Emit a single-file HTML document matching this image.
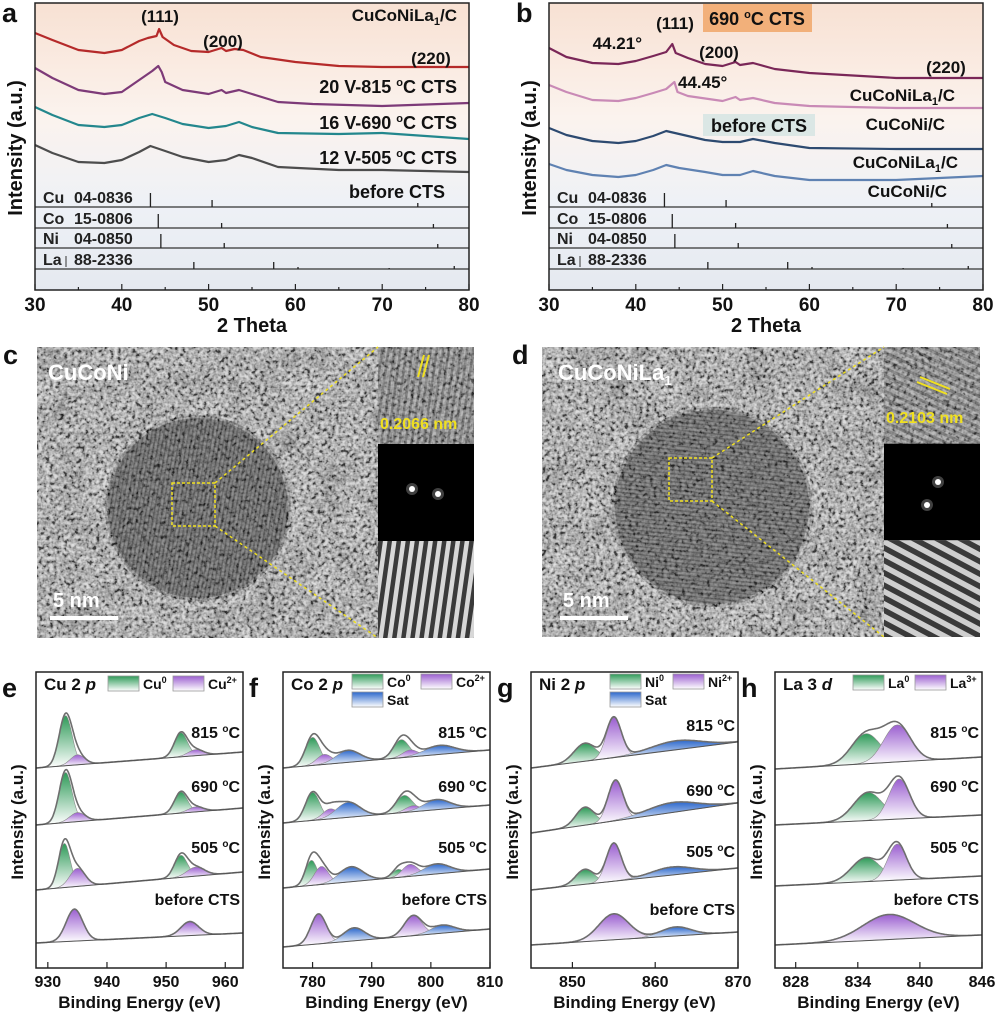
<!DOCTYPE html>
<html><head><meta charset="utf-8">
<style>
html,body{margin:0;padding:0;background:#fff;}
svg{display:block;font-family:"Liberation Sans",sans-serif;font-weight:bold;}
</style></head>
<body>
<svg id="fig" width="1000" height="1014" viewBox="0 0 1000 1014" xmlns="http://www.w3.org/2000/svg">
<defs>
  <linearGradient id="xrdBg" x1="0" y1="0" x2="0" y2="1">
    <stop offset="0" stop-color="#f8e1d3"/><stop offset="0.4" stop-color="#fbf3ee"/><stop offset="0.7" stop-color="#eef1f6"/><stop offset="1" stop-color="#e5e9f0"/>
  </linearGradient>
  <linearGradient id="gGreen" x1="0" y1="0" x2="0" y2="1"><stop offset="0" stop-color="#2e9a58"/><stop offset="1" stop-color="#ffffff"/></linearGradient>
  <linearGradient id="gPurple" x1="0" y1="0" x2="0" y2="1"><stop offset="0" stop-color="#9b5fd0"/><stop offset="1" stop-color="#ffffff"/></linearGradient>
  <linearGradient id="gBlue" x1="0" y1="0" x2="0" y2="1"><stop offset="0" stop-color="#2c68cc"/><stop offset="1" stop-color="#ffffff"/></linearGradient>
  <filter id="noise" x="0" y="0" width="100%" height="100%">
    <feTurbulence type="fractalNoise" baseFrequency="0.28" numOctaves="2" seed="4"/>
    <feColorMatrix type="matrix" values="1.6 1.6 0 0 -1.1  1.6 1.6 0 0 -1.1  1.6 1.6 0 0 -1.1  0 0 0 0 1"/>
  </filter>
  <filter id="blotch" x="0" y="0" width="100%" height="100%">
    <feTurbulence type="fractalNoise" baseFrequency="0.035" numOctaves="3" seed="9"/>
    <feColorMatrix type="matrix" values="0.8 0.8 0 0 -0.4  0.8 0.8 0 0 -0.4  0.8 0.8 0 0 -0.4  0 0 0 0 1"/>
  </filter>
  <pattern id="fringeC" width="4" height="4" patternUnits="userSpaceOnUse" patternTransform="rotate(10)"><rect width="4" height="4" fill="#5c5c5c"/><rect width="1.6" height="4" fill="#303030"/></pattern>
  <pattern id="fringeD" width="4" height="4" patternUnits="userSpaceOnUse" patternTransform="rotate(96)"><rect width="4" height="4" fill="#606060"/><rect width="1.6" height="4" fill="#353535"/></pattern>
  <pattern id="fftC" width="9" height="9" patternUnits="userSpaceOnUse" patternTransform="rotate(8)"><rect width="9" height="9" fill="#d8d8d8"/><rect width="4.5" height="9" fill="#3a3a3a"/></pattern>
  <pattern id="fftD" width="11" height="11" patternUnits="userSpaceOnUse" patternTransform="rotate(118)"><rect width="11" height="11" fill="#cfcfcf"/><rect width="5.5" height="11" fill="#3a3a3a"/></pattern>
  <pattern id="latC" width="6" height="6" patternUnits="userSpaceOnUse" patternTransform="rotate(8)"><rect width="6" height="6" fill="#8a8a8a"/><rect width="2.5" height="6" fill="#4a4a4a"/></pattern>
  <pattern id="latD" width="7" height="7" patternUnits="userSpaceOnUse" patternTransform="rotate(115)"><rect width="7" height="7" fill="#8e8e8e"/><rect width="3" height="7" fill="#505050"/></pattern>
</defs>
</svg>
<script>
// ---------------- DATA: XRD panel a ----------------
const xrdTicks=[30,40,50,60,70,80];
const aRedTheta=[30,32,35,38,40,42,43,44,44.3,44.7,46,48,50,51.5,52,53,54,56,60,65,70,80];
const aRedVal=[257,250,240,237,240,249,252,254,261,253,245,239,238,242,239,241,240,233,228,224,223,223];
const aPurTheta=[30,32,35,38,40,42,43.5,44.2,44.6,45,47,50,51.5,52,53.5,55,58,62,70,80];
const aPurVal=[222,212,200,196,198,210,219,224,218,208,200,196,200,197,200,196,188,186,184,187];
const aTealTheta=[30,32,35,38,40,42,43.5,45,47,50,52,53.5,55,58,65,70,80];
const aTealVal=[183,175,165,163,165,172,176,172,166,162,164,168,163,157,156,157,151];
const aGrayTheta=[30,32,35,38,40,42,43.3,45,47,50,52,53.5,55,58,65,70,80];
const aGrayVal=[145,137,128,127,130,138,144,139,133,128,130,135,132,123,120,120,118];
// ---------------- DATA: XRD panel b ----------------
const bDarkTheta=[30,32,35,38,40,42,43.5,44.2,44.6,46,48,50,51.5,52,53.5,56,60,70,80];
const bDarkVal=[242,233,227,226,229,234,238,246,237,232,226,224,228,225,227,221,217,212,212];
const bPinkTheta=[30,32,35,38,40,42,43.5,44.45,44.8,46,50,51.5,52,53.5,56,60,70,80];
const bPinkVal=[205,198,190,189,192,197,201,208,198,194,189,193,190,192,187,184,182,182];
const bNavyTheta=[30,32,35,38,40,42,43.5,45,48,50,52,53.5,56,60,70,80];
const bNavyVal=[162,155,149,147,149,154,159,156,150,148,148,151,147,142,141,141];
const bBlueTheta=[30,32,35,38,40,42,43.5,45,48,50,52,53.5,56,60,70,80];
const bBlueVal=[126,120,115,113,115,120,125,122,118,115,115,119,114,110,110,114];
// reference sticks (2theta, relative height)
const refCuPos=[43.3,50.4,74.1];
const refCuH=[14,7,4];
const refCoPos=[44.2,51.5,75.9];
const refCoH=[14,5,4];
const refNiPos=[44.5,51.8,76.4];
const refNiH=[14,5,4];
const refLaPos=[48.3,57.5,60.3,70.8,78.3];
const refLaH=[7,7,2,1,3];
// ---------------- DATA: XPS ----------------
const eTicks=[930,940,950,960];
const eSpectra=[
 {label:"815 °C",b0:200,b1:216,comps:[[933,50,1.1,"g"],[935,10,1.2,"p"],[952.5,24,1.1,"g"],[955,6,1.3,"p"]]},
 {label:"690 °C",b0:143,b1:160,comps:[[933,50,1.1,"g"],[935,9,1.3,"p"],[952.5,21,1.1,"g"],[955,5,1.3,"p"]]},
 {label:"505 °C",b0:78,b1:96,comps:[[932.8,44,1.0,"g"],[935,18,1.3,"p"],[952.5,22,1.1,"g"],[955,9,1.5,"p"]]},
 {label:"before CTS",b0:25,b1:35,comps:[[934.5,32,1.4,"p"],[954,14,1.5,"p"]]}
];
const fTicks=[780,790,800,810];
const fSpectra=[
 {label:"815 °C",b0:200,b1:218,comps:[[780,28,1.2,"g"],[782,10,1.3,"p"],[786,12,2,"b"],[795,18,1.3,"g"],[796.5,7,1.3,"p"],[801.5,9,2.5,"b"]]},
 {label:"690 °C",b0:145,b1:163,comps:[[780,28,1.2,"g"],[783,10,1.3,"p"],[786,15,2,"b"],[795.5,17,1.4,"g"],[797,6,1.3,"p"],[801,10,2.2,"b"]]},
 {label:"505 °C",b0:80,b1:99,comps:[[779.8,25,1.0,"g"],[781.5,18,1.2,"p"],[786.5,15,2,"b"],[794.5,8,1.0,"g"],[796.5,12,1.3,"p"],[801,10,2.2,"b"]]},
 {label:"before CTS",b0:21,b1:39,comps:[[781,30,1.3,"p"],[787,13,1.8,"b"],[797,20,1.5,"p"],[802,8,2,"b"]]}
];
const gTicks=[850,860,870];
const gSpectra=[
 {label:"815 °C",b0:200,b1:226,comps:[[851.5,18,1.3,"g"],[855,40,0.9,"p"],[862.5,9,3,"b"]]},
 {label:"690 °C",b0:135,b1:165,comps:[[851.5,18,1.1,"g"],[855.2,40,0.9,"p"],[862,10,3,"b"]]},
 {label:"505 °C",b0:78,b1:100,comps:[[851.5,15,1.1,"g"],[855,38,0.9,"p"],[862,8,2.5,"b"]]},
 {label:"before CTS",b0:23,b1:36,comps:[[855,26,1.8,"p"],[862.5,9,1.8,"b"]]}
];
const hTicks=[828,834,840,846];
const hSpectra=[
 {label:"815 °C",b0:199,b1:211,comps:[[834.8,30,1.4,"g"],[837.8,37,1.3,"p"]]},
 {label:"690 °C",b0:143,b1:153,comps:[[835,28,1.4,"g"],[838,40,1.0,"p"]]},
 {label:"505 °C",b0:82,b1:92,comps:[[834.8,24,1.4,"g"],[837.8,36,0.9,"p"]]},
 {label:"before CTS",b0:23,b1:33,comps:[[837,25,2.5,"p"]]}
];

// ---------------- helpers ----------------
const NS="http://www.w3.org/2000/svg";
const svg=document.getElementById('fig');
function mk(tag,attrs,parent){const e=document.createElementNS(NS,tag);for(const k in attrs)e.setAttribute(k,attrs[k]);(parent||svg).appendChild(e);return e;}
function txt(s,x,y,size,anchor,parent,fill){const t=mk('text',{x:x,y:y,'font-size':size,'text-anchor':anchor||'start',fill:fill||'#111'},parent);t.textContent=s;return t;}
function lin(d0,d1,r0,r1){return v=>r0+(v-d0)*(r1-r0)/(d1-d0);}
function degText(t,pre,post,size){const a=mk('tspan',{},t);a.textContent=pre;const o=mk('tspan',{'font-size':Math.round(size*0.62),dy:-Math.round(size*0.4)},t);o.textContent='o';const c=mk('tspan',{dy:Math.round(size*0.4)},t);c.textContent=post;}

// ---------------- XRD panels ----------------
function xrdPanel(cfg){
  const g=mk('g',{});
  
  
  const X=lin(30,80,cfg.x0,cfg.x1), Y=lin(0,290,290,0);
  const bg=mk('rect',{x:cfg.x0,y:3,width:cfg.x1-cfg.x0,height:287,fill:'url(#xrdBg)'},g);
  
  
  const refs=[["Cu","04-0836",refCuPos,refCuH,207],["Co","15-0806",refCoPos,refCoH,228],["Ni","04-0850",refNiPos,refNiH,248],["La","88-2336",refLaPos,refLaH,269]];
  refs.forEach(r=>{
    const rg=mk('g',{},g);
    
    
    mk('line',{x1:cfg.x0,x2:cfg.x1,y1:r[4],y2:r[4],stroke:'#333','stroke-width':1.2},rg);
    txt(r[0],cfg.x0+8,r[4]-4,16,'start',rg,'#222');
    txt(r[1],cfg.x0+39,r[4]-4,16,'start',rg,'#222');
    if(r[0]==="La") mk('line',{x1:cfg.x0+31,x2:cfg.x0+31,y1:r[4]-13,y2:r[4]-2,stroke:'#333','stroke-width':1},rg);
    r[2].forEach((p,i)=>{
      const s=mk('line',{x1:X(p),x2:X(p),y1:r[4],y2:r[4]-r[3][i],stroke:'#222','stroke-width':1.3},rg);
      
      
    });
  });
  cfg.series.forEach(s=>{
    const pts=s.t.map((t,i)=>X(t).toFixed(1)+','+Y(s.v[i]).toFixed(1)).join(' ');
    const pl=mk('polyline',{points:pts,fill:'none',stroke:s.c,'stroke-width':2.2,'stroke-linejoin':'round'},g);
    
    
  });
  const fr=mk('rect',{x:cfg.x0,y:3,width:cfg.x1-cfg.x0,height:287,fill:'none',stroke:'#222','stroke-width':1.5},g);
  
  
  for(let t=30;t<=80;t+=5){
    mk('line',{x1:X(t),x2:X(t),y1:290,y2:t%10===0?284:287,stroke:'#222','stroke-width':1.2},g);
  }
  xrdTicks.forEach(t=>{
    const tl=txt(String(t),X(t),311,19,'middle',g);
    
    
  });
  const xt=txt('2 Theta',(cfg.x0+cfg.x1)/2,332,20,'middle',g);
  
  
  const yt=txt('Intensity (a.u.)',0,0,20,'middle',g);
  yt.setAttribute('transform','translate('+(cfg.x0-13)+',148) rotate(-90)');
  
  
  const pl=txt(cfg.letter,cfg.x0-33,22,27,'start',g);
  
  
  return g;
}
const ga=xrdPanel({name:'panel-a-xrd',letter:'a',x0:35,x1:469,series:[
 {t:aRedTheta,v:aRedVal,c:'#b52a2a',name:'curve-cuconila1'},
 {t:aPurTheta,v:aPurVal,c:'#7d3a78',name:'curve-815c'},
 {t:aTealTheta,v:aTealVal,c:'#23878d',name:'curve-690c'},
 {t:aGrayTheta,v:aGrayVal,c:'#4d4d4d',name:'curve-505c'}]});
{
  const t0=txt('',457,21,17,'end',ga);
  
  
  const a=mk('tspan',{},t0);a.textContent='CuCoNiLa';const b=mk('tspan',{'font-size':11,dy:4},t0);b.textContent='1';const c=mk('tspan',{dy:-4},t0);c.textContent='/C';
  [["(111)",160,22],["(200)",223,47],["(220)",431,64]].forEach(l=>{
    const t=txt(l[0],l[1],l[2],17,'middle',ga);
    
    
  });
  [["20 V-815 ","C CTS",93],["16 V-690 ","C CTS",129],["12 V-505 ","C CTS",164]].forEach(l=>{
    const t=txt('',457,l[2],18,'end',ga);
    
    
    degText(t,l[0],l[1],18);
  });
  const bc=txt('before CTS',445,198,18,'end',ga);
  
  
}

const gb=xrdPanel({name:'panel-b-xrd',letter:'b',x0:549,x1:983,series:[
 {t:bDarkTheta,v:bDarkVal,c:'#7a2758',name:'curve-690-cuconila1'},
 {t:bPinkTheta,v:bPinkVal,c:'#c98ab6',name:'curve-690-cuconi'},
 {t:bNavyTheta,v:bNavyVal,c:'#2d4a70',name:'curve-before-cuconila1'},
 {t:bBlueTheta,v:bBlueVal,c:'#5f82b2',name:'curve-before-cuconi'}]});
{
  const r1=mk('rect',{x:703,y:4,width:109,height:28,fill:'#f2b07a'},gb);
  
  
  const r2=mk('rect',{x:703,y:114,width:112,height:22,fill:'#dbe7e5'},gb);
  
  
  const t690=txt('',757,25,18,'middle',gb);
  
  
  degText(t690,'690 ','C CTS',18);
  [["before  CTS",759,132,'middle',18],["(111)",675,29,'middle',17],["44.21°",642,49,'end',17],["(200)",719,58,'middle',17],
   ["(220)",946,73,'middle',17],["44.45°",678,88,'start',17],["CuCoNi/C",945,130,'end',17],["CuCoNi/C",947,197,'end',17]].forEach(l=>{
    const t=txt(l[0],l[1],l[2],l[4],l[3],gb);
    
    
  });
  [[955,101],[958,168]].forEach(p=>{
    const t=txt('',p[0],p[1],17,'end',gb);
    
    
    const a=mk('tspan',{},t);a.textContent='CuCoNiLa';const b=mk('tspan',{'font-size':11,dy:4},t);b.textContent='1';const c=mk('tspan',{dy:-4},t);c.textContent='/C';
  });
}

// ---------------- TEM panels ----------------
function tem(cfg){
  const g=mk('g',{});
  
  
  const H=cfg.y1-cfg.y0, s1=cfg.y0+H/3, s2=cfg.y0+2*H/3;
  const cid='clip'+cfg.letter;
  const cp=mk('clipPath',{id:cid},g);
  mk('rect',{x:cfg.x0,y:cfg.y0,width:cfg.ix-cfg.x0,height:H},cp);
  const img=mk('g',{'clip-path':'url(#'+cid+')'},g);
  mk('rect',{x:cfg.x0,y:cfg.y0,width:cfg.ix-cfg.x0,height:H,fill:'#848484'},img);
  mk('rect',{x:cfg.x0,y:cfg.y0,width:cfg.ix-cfg.x0,height:H,filter:'url(#blotch)',opacity:0.5},img);
  mk('circle',{cx:cfg.cx,cy:cfg.cy,r:cfg.r+7,fill:'#a6a6a6',opacity:0.5},img);
  const p=mk('circle',{cx:cfg.cx,cy:cfg.cy,r:cfg.r,fill:cfg.fr},img);
  
  
  mk('rect',{x:cfg.x0,y:cfg.y0,width:cfg.ix-cfg.x0,height:H,filter:'url(#noise)',opacity:0.6},img);
  mk('circle',{cx:cfg.cx,cy:cfg.cy,r:cfg.r-3,fill:cfg.fr,opacity:0.45},img);
  const lat=mk('rect',{x:cfg.ix,y:cfg.y0,width:cfg.x1-cfg.ix,height:s1-cfg.y0,fill:cfg.lat},g);
  
  
  mk('rect',{x:cfg.ix,y:cfg.y0,width:cfg.x1-cfg.ix,height:s1-cfg.y0,filter:'url(#noise)',opacity:0.4},g);
  const f=mk('rect',{x:cfg.ix,y:s1,width:cfg.x1-cfg.ix,height:s2-s1,fill:'#000'},g);
  
  
  cfg.dots.forEach(d=>{mk('circle',{cx:d[0],cy:d[1],r:6,fill:'#fff',opacity:0.25},g);mk('circle',{cx:d[0],cy:d[1],r:3,fill:'#fff'},g);});
  const ff=mk('rect',{x:cfg.ix,y:s2,width:cfg.x1-cfg.ix,height:cfg.y1-s2,fill:cfg.fft},g);
  
  
  const s=cfg.sq;
  const sqr=mk('rect',{x:s[0],y:s[1],width:43,height:43,fill:'none',stroke:'#f0e020','stroke-width':1.5,'stroke-dasharray':'3,2'},g);
  
  
  mk('line',{x1:s[0]+43,y1:s[1],x2:cfg.ix,y2:cfg.y0,stroke:'#f0e020','stroke-width':1.5,'stroke-dasharray':'3,3'},g);
  mk('line',{x1:s[0]+43,y1:s[1]+43,x2:cfg.ix,y2:cfg.y1,stroke:'#f0e020','stroke-width':1.5,'stroke-dasharray':'3,3'},g);
  mk('line',{x1:cfg.mk[0],y1:cfg.mk[1],x2:cfg.mk[2],y2:cfg.mk[3],stroke:'#f0e020','stroke-width':2},g);
  mk('line',{x1:cfg.mk[0]+cfg.mk[4],y1:cfg.mk[1]+cfg.mk[5],x2:cfg.mk[2]+cfg.mk[4],y2:cfg.mk[3]+cfg.mk[5],stroke:'#f0e020','stroke-width':2},g);
  const d=txt(cfg.dist,cfg.ix+2,cfg.dy,16,'start',g,'#f0e020');
  
  
  const sb=mk('rect',{x:cfg.sb,y:616,width:68,height:4,fill:'#fff'},g);
  
  
  txt('5 nm',cfg.sb+3,607,20,'start',g,'#fff');
  const nm=txt(cfg.title,cfg.tx,380,22,'start',g,'#fff');
  
  
  if(cfg.sub){const b=mk('tspan',{'font-size':13,dy:5},nm);b.textContent='1';}
  const pl=txt(cfg.letter,cfg.lx,364,27,'start',svg);
  
  
}
tem({name:'panel-c-tem',letter:'c',lx:3,x0:37,y0:347,y1:638,ix:378,x1:474,cx:198,cy:508,r:93,fr:'url(#fringeC)',lat:'url(#latC)',fft:'url(#fftC)',
  dots:[[412,489],[438,494]],sq:[172,483],mk:[418,377,424,355,5,0],dist:'0.2066 nm',dy:429,title:'CuCoNi',tx:48,sb:50,sub:false});
tem({name:'panel-d-tem',letter:'d',lx:512,x0:542,y0:347,y1:637,ix:884,x1:980,cx:712,cy:507,r:100,fr:'url(#fringeD)',lat:'url(#latD)',fft:'url(#fftD)',
  dots:[[938,482],[927,505]],sq:[669,458],mk:[920,377,950,389,-3,5],dist:'0.2103 nm',dy:423,title:'CuCoNiLa',tx:558,sb:560,sub:true});

// ---------------- XPS panels ----------------
const compFill={g:'url(#gGreen)',p:'url(#gPurple)',b:'url(#gBlue)'};
function gauss(x,c){return c[1]*Math.exp(-((x-c[0])*(x-c[0]))/(2*c[2]*c[2]));}
function xps(cfg){
  const g=mk('g',{});
  
  
  const X=lin(cfg.d0,cfg.d1,cfg.x0,cfg.x1), Y=lin(0,300,968,668);
  mk('rect',{x:cfg.x0,y:672,width:cfg.x1-cfg.x0,height:296,fill:'#fff'},g);
  cfg.spectra.forEach((sp,si)=>{
    const sg=mk('g',{},g);
    
    
    const base=x=>sp.b0+(sp.b1-sp.b0)*(x-cfg.d0)/(cfg.d1-cfg.d0);
    sp.comps.forEach(c=>{
      const lo=Math.max(cfg.d0,c[0]-3.5*c[2]), hi=Math.min(cfg.d1,c[0]+3.5*c[2]);
      let top=[],bot=[];
      for(let x=lo;x<=hi+1e-6;x+=0.1){top.push(X(x).toFixed(1)+','+Y(base(x)+gauss(x,c)).toFixed(1));bot.unshift(X(x).toFixed(1)+','+Y(base(x)).toFixed(1));}
      const pg=mk('polygon',{points:top.concat(bot).join(' '),fill:compFill[c[3]],stroke:'#8a8a8a','stroke-width':0.6},sg);
      
      
    });
    let env=[];
    for(let x=cfg.d0;x<=cfg.d1+1e-6;x+=0.1){let v=base(x);sp.comps.forEach(c=>v+=gauss(x,c));env.push(X(x).toFixed(1)+','+Y(v).toFixed(1));}
    const el=mk('polyline',{points:env.join(' '),fill:'none',stroke:'#6e6e6e','stroke-width':1.6},sg);
    
    
    mk('line',{x1:cfg.x0,x2:cfg.x1,y1:Y(sp.b0),y2:Y(sp.b1),stroke:'#555','stroke-width':1},sg);
    const lb=txt('',cfg.x1-3,cfg.ly[si],16,'end',sg);
    
    
    if(sp.label.indexOf('°C')>0) degText(lb,sp.label.split(' ')[0]+' ','C',16);
    else lb.textContent=sp.label;
  });
  const fr=mk('rect',{x:cfg.x0,y:672,width:cfg.x1-cfg.x0,height:296,fill:'none',stroke:'#222','stroke-width':1.5},g);
  
  
  cfg.ticks.forEach(t=>{
    mk('line',{x1:X(t),x2:X(t),y1:968,y2:962,stroke:'#222','stroke-width':1.2},g);
    const tl=txt(String(t),X(t),987,16,'middle',g);
    
    
  });
  const xt=txt('Binding Energy (eV)',(cfg.x0+cfg.x1)/2,1008,17,'middle',g);
  
  
  const yt=txt('Intensity (a.u.)',0,0,17,'middle',g);
  yt.setAttribute('transform','translate('+(cfg.x0-13)+',822) rotate(-90)');
  
  
  const pl=txt(cfg.letter,cfg.x0-34,697,27,'start',g);
  
  
  const ti=txt(cfg.el+' ',cfg.x0+8,690,17,'start',g);
  
  
  const it=mk('tspan',{'font-style':'italic'},ti);it.textContent=cfg.orb;
  cfg.legend.forEach(l=>{
    const lg=mk('g',{},g);
    
    
    mk('rect',{x:l[0],y:l[1],width:31,height:15,fill:compFill[l[2]],stroke:'#999','stroke-width':0.8},lg);
    const t=txt(l[3],l[0]+35,l[1]+13,14,'start',lg);
    if(l[4]){const s=mk('tspan',{'font-size':9,dy:-6},t);s.textContent=l[4];}
  });
}
xps({name:'panel-e-xps-cu',letter:'e',el:'Cu 2',orb:'p',x0:36,x1:243,d0:928,d1:963,ticks:eTicks,spectra:eSpectra,ly:[738,792,853,905],
  legend:[[108,676,'g','Cu','0'],[173,676,'p','Cu','2+']]});
xps({name:'panel-f-xps-co',letter:'f',el:'Co 2',orb:'p',x0:283,x1:490,d0:775,d1:810,ticks:fTicks,spectra:fSpectra,ly:[738,792,853,905],
  legend:[[352,674,'g','Co','0'],[421,674,'p','Co','2+'],[352,692,'b','Sat','']]});
xps({name:'panel-g-xps-ni',letter:'g',el:'Ni 2',orb:'p',x0:531,x1:738,d0:845,d1:870,ticks:gTicks,spectra:gSpectra,ly:[731,796,857,915],
  legend:[[610,674,'g','Ni','0'],[673,674,'p','Ni','2+'],[610,692,'b','Sat','']]});
xps({name:'panel-h-xps-la',letter:'h',el:'La 3',orb:'d',x0:775,x1:982,d0:826,d1:846,ticks:hTicks,spectra:hSpectra,ly:[738,792,853,905],
  legend:[[853,675,'g','La','0'],[915,675,'p','La','3+']]});
</script>
</body></html>
